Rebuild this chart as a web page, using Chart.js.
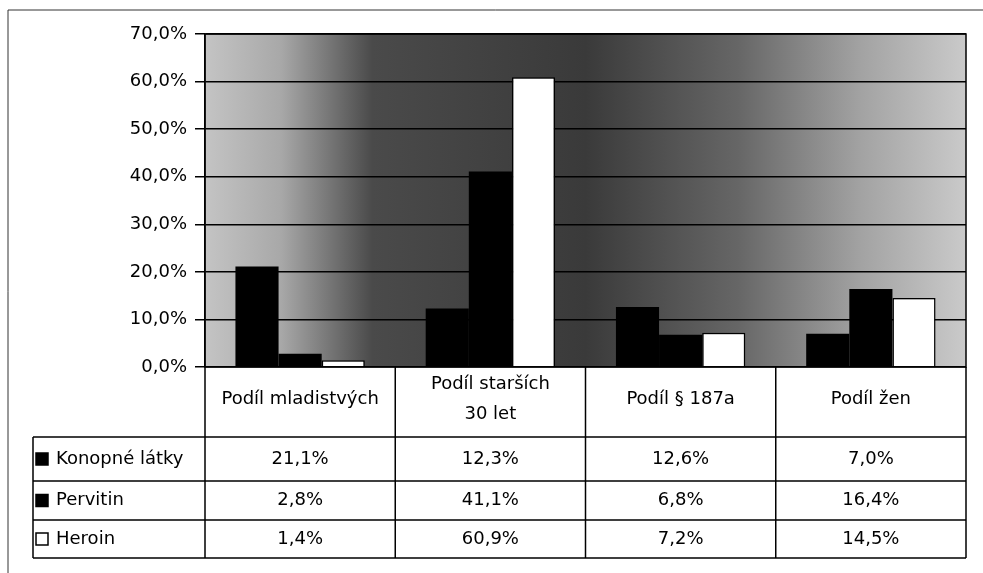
<!DOCTYPE html>
<html lang="cs">
<head>
<meta charset="UTF-8">
<title>Podíl drog</title>
<script src="https://cdn.jsdelivr.net/npm/chart.js"></script>
<style>
    * { margin: 0; padding: 0; box-sizing: border-box; }
    body { background: #fff; width: 983px; height: 573px; overflow: hidden; }
    .wrap { position: relative; width: 983px; height: 573px; }
</style>
</head>
<body>
<div class="wrap">
    <canvas id="chart" width="983" height="573"></canvas>
</div>
<script>
    // data
    const categories = [['Podíl mladistvých'], ['Podíl starších', '30 let'], ['Podíl § 187a'], ['Podíl žen']];
    const seriesNames = ['Konopné látky', 'Pervitin', 'Heroin'];
    const konopne = [21.1, 12.3, 12.6, 7.0];
    const pervitin = [2.8, 41.1, 6.8, 16.4];
    const heroin = [1.4, 60.9, 7.2, 14.5];
    const yTicks = [0, 10, 20, 30, 40, 50, 60, 70];

    const FONT = "'DejaVu Sans', Arial, sans-serif";
    const fmt = v => v.toFixed(1).replace('.', ',') + '%';

    const fills = ['#000000', '#000000', '#ffffff'];

    // gray scanned-looking backdrop of the plot area
    const plotBackground = {
        id: 'plotBackground',
        beforeDraw(chart) {
            const { ctx, chartArea: a } = chart;
            const g = ctx.createLinearGradient(a.left, 0, a.right, 0);
            g.addColorStop(0, '#c4c4c4');
            g.addColorStop(0.1, '#a8a8a8');
            g.addColorStop(0.22, '#4a4a4a');
            g.addColorStop(0.5, '#3a3a3a');
            g.addColorStop(0.7, '#666666');
            g.addColorStop(0.86, '#a2a2a2');
            g.addColorStop(1, '#cacaca');
            ctx.save();
            ctx.fillStyle = g;
            ctx.fillRect(a.left, a.top, a.right - a.left, a.bottom - a.top);
            ctx.restore();
        },
        afterDraw(chart) {
            const { ctx, chartArea: a } = chart;
            ctx.save();
            ctx.strokeStyle = '#000';
            ctx.lineWidth = 1.5;
            ctx.strokeRect(a.left, a.top, a.right - a.left, a.bottom - a.top);
            // outer frame (top and left edge visible in the scan)
            ctx.strokeStyle = '#333';
            ctx.lineWidth = 1;
            ctx.beginPath();
            ctx.moveTo(8, 573);
            ctx.lineTo(8, 10);
            ctx.lineTo(983, 10);
            ctx.stroke();
            ctx.restore();
        }
    };

    // data table below the plot, built from the same arrays
    const dataTable = {
        id: 'dataTable',
        afterDraw(chart) {
            const { ctx, chartArea: a } = chart;
            const series = [konopne, pervitin, heroin];
            const colW = (a.right - a.left) / categories.length;
            const headerH = 70;
            const rowH = [44, 39, 38];
            const legendLeft = 33;
            const rowTops = [a.bottom + headerH];
            rowH.forEach((h, i) => rowTops.push(rowTops[i] + h));
            const bottom = rowTops[rowTops.length - 1];

            ctx.save();
            ctx.strokeStyle = '#000';
            ctx.lineWidth = 1.5;
            ctx.beginPath();
            for (let i = 0; i <= categories.length; i++) {
                const x = a.left + i * colW;
                ctx.moveTo(x, a.bottom);
                ctx.lineTo(x, bottom);
            }
            ctx.moveTo(legendLeft, rowTops[0]);
            ctx.lineTo(legendLeft, bottom);
            rowTops.forEach(y => {
                ctx.moveTo(legendLeft, y);
                ctx.lineTo(a.right, y);
            });
            ctx.stroke();

            ctx.fillStyle = '#000';
            ctx.font = '18px ' + FONT;
            ctx.textAlign = 'center';
            ctx.textBaseline = 'middle';
            categories.forEach((lines, i) => {
                const cx = a.left + (i + 0.5) * colW;
                const cy = a.bottom + headerH / 2 - 3;
                const lh = 30;
                lines.forEach((t, j) => {
                    ctx.fillText(t, cx, cy + (j - (lines.length - 1) / 2) * lh);
                });
            });

            series.forEach((vals, r) => {
                const cy = rowTops[r] + rowH[r] / 2;
                ctx.textAlign = 'center';
                ctx.fillStyle = '#000';
                vals.forEach((v, i) => {
                    ctx.fillText(fmt(v), a.left + (i + 0.5) * colW, cy);
                });
                // legend key
                ctx.fillStyle = fills[r];
                ctx.fillRect(legendLeft + 3, cy - 6, 12, 12);
                ctx.lineWidth = 1.5;
                ctx.strokeRect(legendLeft + 3, cy - 6, 12, 12);
                ctx.fillStyle = '#000';
                ctx.textAlign = 'left';
                ctx.fillText(seriesNames[r], legendLeft + 23, cy);
            });
            ctx.restore();
        }
    };

    new Chart(document.getElementById('chart'), {
        type: 'bar',
        data: {
            labels: categories.map(c => c.join(' ')),
            datasets: [
                { label: seriesNames[0], data: konopne, backgroundColor: fills[0], borderWidth: 0 },
                { label: seriesNames[1], data: pervitin, backgroundColor: fills[1], borderWidth: 0 },
                { label: seriesNames[2], data: heroin, backgroundColor: fills[2], borderColor: '#000', borderWidth: 1.5 }
            ]
        },
        options: {
            responsive: false,
            animation: false,
            events: [],
            layout: { padding: { left: 0, right: 17, top: 34, bottom: 206 } },
            datasets: { bar: { categoryPercentage: 0.68, barPercentage: 1 } },
            plugins: {
                legend: { display: false },
                tooltip: { enabled: false }
            },
            scales: {
                x: {
                    display: false
                },
                y: {
                    min: 0,
                    max: 70,
                    afterFit(scale) { scale.width = 205; },
                    afterBuildTicks(scale) { scale.ticks = yTicks.map(v => ({ value: v })); },
                    ticks: {
                        color: '#000',
                        font: { family: FONT, size: 18 },
                        padding: 8,
                        callback: v => fmt(v)
                    },
                    grid: {
                        color: '#000',
                        lineWidth: 1.5,
                        tickLength: 10,
                        drawOnChartArea: true
                    },
                    border: { color: '#000', width: 1.5 }
                }
            }
        },
        plugins: [plotBackground, dataTable]
    });
</script>
</body>
</html>
